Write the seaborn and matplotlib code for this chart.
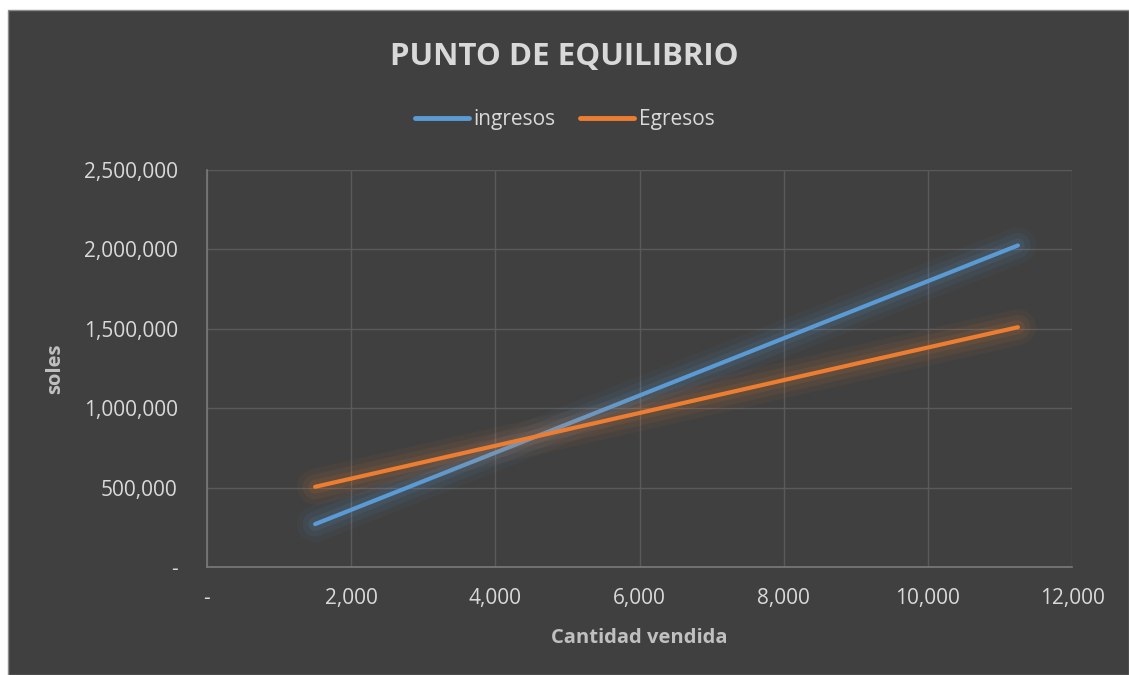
import matplotlib
matplotlib.use("Agg")
import matplotlib.pyplot as plt
import matplotlib.patheffects as pe
from matplotlib.patches import Rectangle
from matplotlib.ticker import FuncFormatter, MultipleLocator
import seaborn as sns
import pandas as pd

# data
cantidad = [1500, 3000, 4500, 6000, 7500, 9000, 11250]
ingresos = [270000, 540000, 810000, 1080000, 1350000, 1620000, 2025000]
egresos = [505000, 660000, 815000, 970000, 1125000, 1280000, 1510000]
series = ["ingresos", "Egresos"]
colors = {"ingresos": "#5b9bd5", "Egresos": "#ed7d31"}

df = pd.DataFrame({
    "Cantidad vendida": cantidad * 2,
    "soles": ingresos + egresos,
    "serie": [series[0]] * len(cantidad) + [series[1]] * len(cantidad),
})

BG = "#404040"
TXT = "#d9d9d9"
LBL = "#c0c0c0"
GRID = "#5a5a5a"

sns.set_theme(style="dark")
plt.rcParams["font.family"] = ["Open Sans", "DejaVu Sans"]

fig = plt.figure(figsize=(11.29, 6.75), dpi=100, facecolor="white")
# dark chart area with thin border, kept behind the axes
fig.add_artist(Rectangle((8 / 1129, 0), 1 - 8 / 1129, 1 - 10 / 675,
                         transform=fig.transFigure, facecolor=BG,
                         edgecolor="#8c8c8c", linewidth=1.0, zorder=-10))

ax = fig.add_axes([207 / 1129, 1 - 567 / 675, (1072 - 207) / 1129, (567 - 170) / 675])
ax.set_zorder(1)
ax.set_facecolor(BG)

sns.lineplot(data=df, x="Cantidad vendida", y="soles", hue="serie",
             palette=colors, linewidth=3, ax=ax, legend=False,
             solid_capstyle="round")

# soft glow behind each line
for line in ax.get_lines():
    c = line.get_color()
    line.set_path_effects([
        pe.Stroke(linewidth=26, foreground=c, alpha=0.05),
        pe.Stroke(linewidth=18, foreground=c, alpha=0.07),
        pe.Stroke(linewidth=10, foreground=c, alpha=0.10),
        pe.Normal(),
    ])

ax.set_xlim(0, 12000)
ax.set_ylim(0, 2500000)
ax.xaxis.set_major_locator(MultipleLocator(2000))
ax.yaxis.set_major_locator(MultipleLocator(500000))
fmt = FuncFormatter(lambda v, p: "-" if v == 0 else f"{v:,.0f}")
ax.xaxis.set_major_formatter(fmt)
ax.yaxis.set_major_formatter(fmt)

ax.grid(True, color=GRID, linewidth=1)
for s in ["top", "right"]:
    ax.spines[s].set_visible(False)
for s in ["left", "bottom"]:
    ax.spines[s].set_visible(True)
    ax.spines[s].set_color("#7a7a7a")
    ax.spines[s].set_linewidth(1.2)

ax.tick_params(colors=TXT, labelsize=15, length=0)
ax.tick_params(axis="y", pad=21)
ax.tick_params(axis="x", pad=15)
ax.set_xlabel("Cantidad vendida", color=LBL, fontsize=14.5, fontweight="bold", va="center")
ax.set_ylabel("soles", color=LBL, fontsize=14.5, fontweight="bold", va="center")
ax.xaxis.set_label_coords(0.5, (567 - 638) / 397)
ax.yaxis.set_label_coords((55 - 207) / 865, 0.5)

fig.text(0.5, 1 - 57 / 675, "PUNTO DE EQUILIBRIO", ha="center", va="center",
         color=TXT, fontsize=22.5, fontweight="bold")

handles = [plt.Line2D([], [], color=colors[s], linewidth=3.5, solid_capstyle="round")
           for s in series]
leg = fig.legend(handles, series, loc="center", bbox_to_anchor=(0.5, 1 - 120 / 675),
                 ncol=2, frameon=False, fontsize=15, handlelength=2.6,
                 handletextpad=0.2, columnspacing=1.2)
for t in leg.get_texts():
    t.set_color(TXT)

fig.savefig("out.png", dpi=100, facecolor="white")
